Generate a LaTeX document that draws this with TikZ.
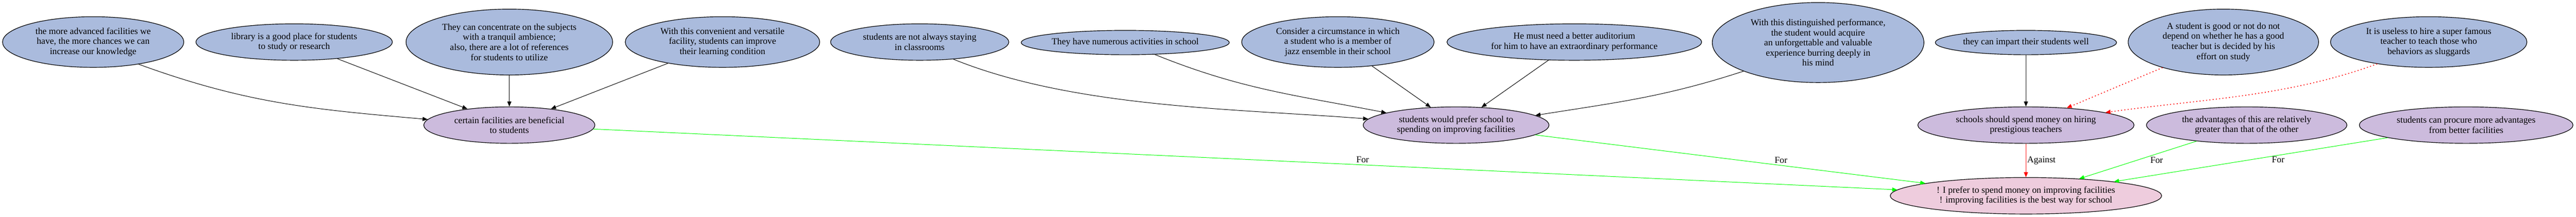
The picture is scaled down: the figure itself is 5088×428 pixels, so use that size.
\documentclass[tikz,border=0pt]{standalone}
\usepackage{fontspec}
\setmainfont{Liberation Serif}
\usepackage{tikz}
\usetikzlibrary{arrows.meta,shapes.geometric,positioning}
\definecolor{premfill}{HTML}{AABBDD}
\definecolor{claimfill}{HTML}{CCBBDD}
\definecolor{stancefill}{HTML}{EECCDD}
\definecolor{forgreen}{HTML}{00FF00}
\tikzset{every path/.style={line width=1pt},
  arg/.style={ellipse,draw,line width=1.2pt,inner sep=0pt,align=center,font=\fontsize{18}{20}\selectfont},
  premise/.style={arg,fill=premfill},
  claim/.style={arg,fill=claimfill},
  stancebox/.style={arg,fill=stancefill},
  sz/.style 2 args={minimum width=#1pt,minimum height=#2pt},
  link/.style={-{Triangle[length=10pt,width=8pt]}},
  pro/.style={link,draw=forgreen},
  con/.style={link,draw=red},
  attack/.style={link,draw=red,line width=1.6pt,dash pattern=on 2pt off 4.5pt},
  lbl/.style={font=\fontsize{18}{20}\selectfont,inner sep=1pt}}

\begin{document}
\begin{tikzpicture}[x=1pt,y=1pt]
\useasboundingbox (0,0) rectangle (5088,-428);

\node[premise,sz={358}{100}] (advanced) at (184,-83) {the more advanced facilities we\\have, the more chances we can\\increase our knowledge};
\node[premise,sz={388}{72}] (library) at (581,-83) {library is a good place for students\\to study or research};
\node[premise,sz={408}{130}] (tranquil) at (1006,-83) {They can concentrate on the subjects\\with a tranquil ambience;\\also, there are a lot of references\\for students to utilize};
\node[premise,sz={384}{100}] (versatile) at (1427,-83) {With this convenient and versatile\\facility, students can improve\\their learning condition};
\node[premise,sz={352}{72}] (classroom) at (1816.5,-83) {students are not always staying\\in classrooms};
\node[premise,sz={411}{48}] (activities) at (2222.5,-84) {They have numerous activities in school};
\node[premise,sz={380}{100}] (jazz) at (2642.5,-83) {Consider a circumstance in which\\a student who is a member of\\jazz ensemble in their school};
\node[premise,sz={503}{72}] (auditorium) at (3109.5,-83) {He must need a better auditorium\\for him to have an extraordinary performance};
\node[premise,sz={418}{158}] (performance) at (3591,-84) {With this distinguished performance,\\the student would acquire\\an unforgettable and valuable\\experience burring deeply in\\his mind};
\node[premise,sz={358}{48}] (impart) at (4001.5,-84) {they can impart their students well};
\node[premise,sz={376}{130}] (effort) at (4391.5,-83) {A student is good or not do not\\depend on whether he has a good\\teacher but is decided by his\\effort on study};
\node[premise,sz={388}{100}] (sluggards) at (4797,-83) {It is useless to hire a super famous\\teacher to teach those who\\behaviors as sluggards};

\node[claim,sz={338}{72}] (beneficial) at (1006,-247) {certain facilities are beneficial\\to students};
\node[claim,sz={367}{72}] (prefer) at (2876,-247) {students would prefer school to\\spending on improving facilities};
\node[claim,sz={427}{72}] (hiring) at (4001.5,-247) {schools should spend money on hiring\\prestigious teachers};
\node[claim,sz={396}{72}] (relative) at (4437.5,-247) {the advantages of this are relatively\\greater than that of the other};
\node[claim,sz={422}{72}] (procure) at (4871,-247) {students can procure more advantages\\from better facilities};

\node[stancebox,sz={536}{72}] (stance) at (4001.5,-386.5) {! I prefer to spend money on improving facilities\\! improving facilities is the best way for school};

\draw[link] (advanced.-26) to[out=-20,in=175] (beneficial.176);
\draw[link] (library) -- (beneficial);
\draw[link] (tranquil) -- (beneficial);
\draw[link] (versatile) -- (beneficial);
\draw[link] (classroom.-27) to[out=-22,in=175.5,looseness=0.8] (prefer.176);
\draw[link] (activities.-22) to[out=-22,in=169] (prefer.170);
\draw[link] (jazz) -- (prefer);
\draw[link] (auditorium) -- (prefer);
\draw[link] (performance.201) to[out=198,in=9] (prefer.7);
\draw[link] (impart) -- (hiring);
\draw[attack] (effort) -- (hiring);
\draw[attack] (sluggards.203) to[out=200,in=8,looseness=0.9] (hiring.9);

\draw[pro] (beneficial) -- node[lbl,pos=0.59,above=3pt] (forbenef) {For} (stance);
\draw[pro] (prefer) -- node[lbl,pos=0.63,above=3pt] (forprefer) {For} (stance);
\draw[con] (hiring) -- node[lbl,midway,right=1pt] (againsthiring) {Against} (stance);
\draw[pro] (relative) -- node[lbl,pos=0.4,anchor=north west] (forrelative) {For} (stance);
\draw[pro] (procure) -- node[lbl,pos=0.4,below=1pt] (forprocure) {For} (stance);
\end{tikzpicture}
\end{document}
